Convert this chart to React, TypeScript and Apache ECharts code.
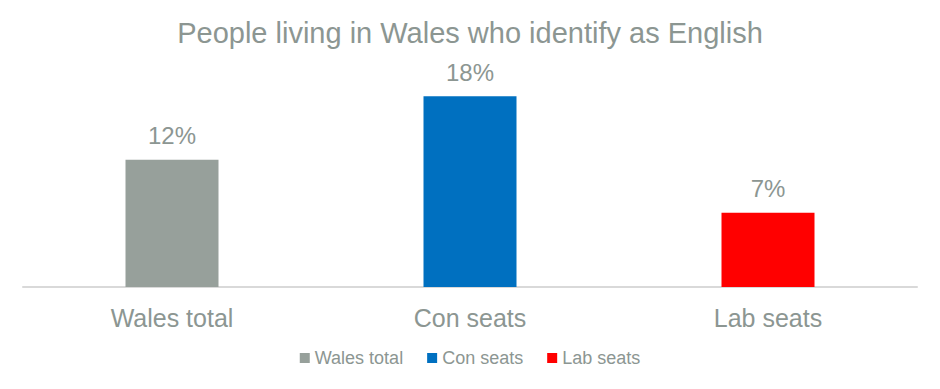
import React, { useEffect, useRef } from "react";
import * as echarts from "echarts";

const categories = ["Wales total", "Con seats", "Lab seats"];
const seriesNames = ["Wales total", "Con seats", "Lab seats"];
const values = [12, 18, 7];
const colors = ["#97A09B", "#0070C0", "#FF0000"];
const titleText = "People living in Wales who identify as English";

export default function App() {
  const ref = useRef<HTMLDivElement>(null);
  useEffect(() => {
    if (!ref.current) return;
    const chart = echarts.init(ref.current, null, { renderer: "svg" });
    const font = "'Liberation Sans', Arial, sans-serif";
    const series = seriesNames.map((name, i) => ({
      name,
      type: "bar",
      stack: "all",
      barWidth: 93,
      itemStyle: { color: colors[i] },
      label: {
        show: true,
        position: "top",
        distance: 12,
        formatter: "{c}%",
        color: "#8C9692",
        fontSize: 24,
        fontFamily: font,
      },
      data: categories.map((_, j) => (j === i ? values[i] : "-")),
    }));
    chart.setOption({
      animation: false,
      textStyle: { fontFamily: font },
      title: {
        text: titleText,
        left: "center",
        top: 5,
        textStyle: { color: "#8C9692", fontSize: 29, fontWeight: "normal", fontFamily: font },
      },
      legend: {
        top: 336,
        left: "center",
        icon: "rect",
        itemWidth: 10,
        itemHeight: 10,
        itemGap: 24,
        textStyle: { color: "#8C9692", fontSize: 18, fontFamily: font },
        data: seriesNames,
      },
      grid: { left: 15, right: 15, top: 67, bottom: 94 },
      xAxis: {
        type: "category",
        data: categories,
        axisLine: { lineStyle: { color: "#D9D9D9", width: 2 } },
        axisTick: { show: false },
        axisLabel: { color: "#8C9692", fontSize: 25, margin: 18, fontFamily: font },
      },
      yAxis: {
        type: "value",
        min: 0,
        max: 20,
        show: false,
        splitLine: { show: false },
      },
      series,
    });
    return () => chart.dispose();
  }, []);
  return <div ref={ref} style={{ width: 924, height: 373 }} />;
}
